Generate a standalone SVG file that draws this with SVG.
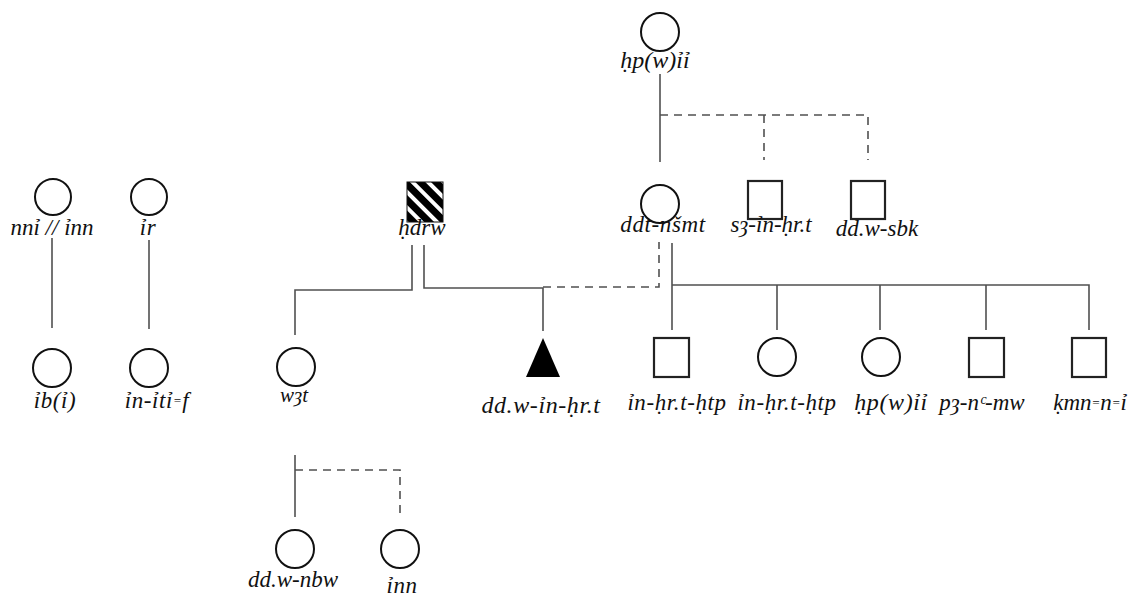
<svg xmlns="http://www.w3.org/2000/svg" width="1130" height="600" viewBox="0 0 1130 600">
<style>
.c{fill:#fff;stroke:#111;stroke-width:2}
.s{fill:#fff;stroke:#222;stroke-width:2.2}
.l{fill:none;stroke:#505050;stroke-width:1.6}
.d{fill:none;stroke:#505050;stroke-width:1.6;stroke-dasharray:8 6}
text{font-family:"Liberation Serif","DejaVu Serif",serif;font-style:italic;font-size:23px;fill:#111;text-anchor:middle;letter-spacing:0.6px}
.e{font-size:13px;baseline-shift:3px}
.n{letter-spacing:0}
</style>
<defs>
<pattern id="hatch" patternUnits="userSpaceOnUse" width="11" height="11" patternTransform="rotate(-45)">
<rect x="0" y="0" width="11" height="11" fill="#fff"/>
<rect x="0" y="0" width="7" height="11" fill="#000"/>
</pattern>
</defs>
<rect width="1130" height="600" fill="#fff"/>
<g id="connectors">
<path class="l" d="M52 238V328"/>
<path class="l" d="M149 240V329"/>
<path class="l" d="M660 74V162"/>
<path class="d" d="M660 115H868V160M764 115V160"/>
<path class="l" d="M412 245V290H295V335"/>
<path class="l" d="M424 245V288H543V331"/>
<path class="d" d="M543 287H659V242"/>
<path class="l" d="M672 243V330M672 285H1089V330M777 285V330M880 285V330M986 285V330"/>
<path class="l" d="M295 455V517"/>
<path class="d" d="M295 470H400V515"/>
</g>
<g id="n-hpwii-top"><circle class="c" cx="660" cy="32" r="19"/><text x="655" y="68" class="n" style="font-size:24px">ḥp(w)ỉỉ</text></g>
<g id="n-ddt-nsmt"><circle class="c" cx="660" cy="204" r="19"/><text x="663" y="232">ddt-nšmt</text></g>
<g id="n-sa-in-hrt"><rect class="s" x="748" y="181" width="34" height="38"/><text x="771" y="232" class="n">sȝ-ỉn-ḥr.t</text></g>
<g id="n-ddw-sbk"><rect class="s" x="851" y="181" width="34" height="38"/><text x="877" y="236" class="n">dd.w-sbk</text></g>
<g id="n-hdrw"><rect x="407" y="182" width="36" height="40" fill="url(#hatch)" stroke="#111" stroke-width="1"/><text x="422" y="235" class="n">ḥdrw</text></g>
<g id="n-nni-inn"><circle class="c" cx="53" cy="197" r="18"/><text x="52" y="235" class="n">nnỉ // ỉnn</text></g>
<g id="n-ir"><circle class="c" cx="149" cy="197" r="18"/><text x="148" y="235">ỉr</text></g>
<g id="n-ibi"><circle class="c" cx="52" cy="368" r="19"/><text x="55" y="408">ỉb(ỉ)</text></g>
<g id="n-in-iti-f"><circle class="c" cx="149" cy="368" r="19"/><text x="157" y="408">ỉn-ỉtỉ<tspan class="e">=</tspan>f</text></g>
<g id="n-wat"><circle class="c" cx="296" cy="367" r="19"/><text x="294" y="402" class="n" style="font-size:21px">wȝt</text></g>
<g id="n-ddw-in-hrt"><polygon points="543,338 526,377 560,377" fill="#000"/><text x="541" y="413" style="font-size:24px">dd.w-ỉn-ḥr.t</text></g>
<g id="n-in-hrt-htp-1"><rect class="s" x="654" y="338" width="35" height="39"/><text x="677" y="410">ỉn-ḥr.t-ḥtp</text></g>
<g id="n-in-hrt-htp-2"><circle class="c" cx="777" cy="357" r="19"/><text x="787" y="410">ỉn-ḥr.t-ḥtp</text></g>
<g id="n-hpwii"><circle class="c" cx="881" cy="357" r="19"/><text x="891" y="410" style="font-size:24px">ḥp(w)ỉỉ</text></g>
<g id="n-pa-na-mw"><rect class="s" x="969" y="338" width="35" height="39"/><text x="982" y="410" class="n">pȝ-nᶜ-mw</text></g>
<g id="n-kmn-n-i"><rect class="s" x="1072" y="338" width="34" height="39"/><text x="1127" y="410" class="n" style="text-anchor:end">ḳmn<tspan class="e">=</tspan>n<tspan class="e">=</tspan>ỉ</text></g>
<g id="n-ddw-nbw"><circle class="c" cx="295" cy="549" r="19"/><text x="293" y="587" class="n">dd.w-nbw</text></g>
<g id="n-inn"><circle class="c" cx="400" cy="549" r="19"/><text x="402" y="593">ỉnn</text></g>
</svg>
